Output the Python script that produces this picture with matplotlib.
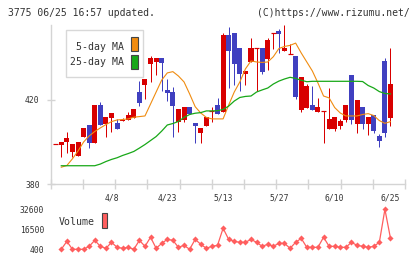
import numpy as np
import matplotlib
matplotlib.use("Agg")
import matplotlib.pyplot as plt
from matplotlib.patches import Rectangle

# ---------------- data ----------------
date_labels = ["4/8", "4/23", "5/13", "5/27", "6/10", "6/25"]
date_index = [10, 20, 30, 40, 50, 60]

opens = [398.9, 398.7, 399.9, 395.4, 393.5, 402.5, 407.9, 399.7, 417.6, 408.7,
         411.6, 409.2, 409.9, 410.5, 411.6, 423.8, 427.1, 437.1, 438.2, 439.9,
         424.8, 423.8, 409.7, 410.6, 416.7, 409.0, 404.4, 407.8, 414.8, 417.6,
         414.4, 451.0, 451.8, 444.8, 432.5, 438.2, 444.8, 444.8, 439.7, 451.8,
         452.9, 443.5, 441.9, 441.0, 415.2, 416.2, 417.6, 414.4, 414.8, 406.3,
         406.3, 407.8, 410.5, 431.9, 408.7, 416.7, 408.7, 412.9, 402.9, 438.6,
         411.6]
highs = [398.9, 400.0, 404.8, 399.0, 400.0, 406.8, 407.9, 417.6, 419.2, 411.8,
         413.8, 411.0, 411.3, 414.4, 415.7, 429.0, 430.0, 441.1, 439.9, 439.9,
         429.9, 426.3, 415.7, 416.7, 416.7, 409.0, 406.8, 411.9, 416.5, 421.0,
         451.8, 454.9, 451.8, 444.8, 433.8, 449.5, 444.8, 444.8, 449.5, 451.8,
         453.8, 455.5, 446.7, 441.0, 431.0, 427.6, 426.7, 420.8, 414.8, 425.7,
         411.9, 411.0, 417.6, 431.9, 420.0, 416.7, 411.9, 412.9, 404.0, 440.0,
         444.8]
lows = [398.9, 392.8, 394.6, 392.8, 393.5, 402.5, 397.0, 399.7, 407.9, 402.5,
        404.6, 406.3, 409.9, 410.5, 411.6, 417.3, 420.5, 428.7, 431.9, 424.4,
        419.7, 402.5, 404.6, 409.7, 413.5, 399.7, 399.7, 407.8, 409.7, 413.5,
        414.4, 425.6, 427.1, 424.4, 427.1, 438.2, 424.4, 432.5, 434.3, 444.4,
        442.5, 443.5, 441.9, 420.6, 414.4, 416.2, 415.2, 414.4, 399.7, 406.3,
        405.2, 406.3, 409.7, 408.7, 404.4, 406.3, 403.5, 404.4, 397.8, 402.5,
        407.8]
closes = [398.9, 400.0, 401.9, 399.0, 400.0, 406.8, 399.7, 417.6, 407.9, 411.8,
          413.8, 406.3, 410.5, 412.9, 415.7, 418.6, 430.0, 439.9, 439.9, 437.5,
          423.5, 417.3, 415.7, 416.7, 413.5, 407.6, 406.8, 411.9, 414.8, 413.5,
          451.0, 443.5, 437.3, 432.5, 433.8, 444.8, 444.8, 433.5, 448.6, 451.8,
          451.6, 444.8, 441.9, 421.4, 431.0, 426.7, 415.2, 416.7, 414.8, 411.0,
          411.9, 410.0, 417.6, 410.5, 420.0, 408.7, 411.9, 405.4, 400.6, 404.4,
          427.6]

ma5 = [np.nan, 388.0, 388.8, 392.0, 395.7, 400.0, 402.9, 405.0, 406.7, 408.3,
       409.7, 410.5, 410.7, 411.0, 411.8, 412.1, 412.4, 418.1, 423.8, 429.5,
       432.9, 433.5, 431.4, 428.6, 422.9, 416.8, 413.8, 411.7, 411.0, 411.0,
       411.0, 417.6, 423.8, 428.6, 434.8, 438.6, 438.1, 437.9, 438.1, 440.6,
       444.5, 445.5, 446.0, 447.1, 442.4, 438.1, 433.8, 428.1, 421.9, 421.0,
       416.4, 413.8, 412.4, 412.4, 412.4, 413.1, 413.5, 412.6, 410.2, 408.9,
       409.7]
ma25 = [np.nan, 388.7, 388.7, 388.7, 388.7, 388.7, 388.7, 388.7, 389.5, 390.7,
        391.7, 392.5, 393.6, 394.5, 395.5, 397.1, 398.8, 400.7, 402.6, 405.2,
        408.1, 408.8, 409.8, 411.7, 413.1, 413.7, 414.0, 414.8, 414.8, 414.9,
        415.5, 417.1, 419.5, 421.2, 421.7, 421.9, 423.8, 424.8, 425.7, 427.6,
        429.0, 430.0, 430.8, 430.3, 429.4, 428.7, 428.9, 428.9, 428.9, 428.9,
        428.9, 428.9, 428.9, 428.9, 428.9, 428.8, 426.9, 425.7, 424.0, 423.1,
        422.9]
volume = [np.nan, 400, 6800, 400, 400, 400, 2800, 7600, 2800, 1200,
          6000, 2000, 1200, 2000, 400, 7600, 2800, 10100, 1200, 5200,
          8400, 7600, 2000, 3600, 400, 8400, 4400, 1200, 2800, 3600,
          17300, 8400, 6800, 6000, 6000, 8400, 6000, 2800, 4400, 2800,
          5200, 5200, 1200, 6000, 9200, 2000, 2000, 2000, 10100, 2800,
          2800, 2000, 2000, 6000, 3600, 2800, 2000, 2800, 6000, 32600,
          9200]
vol_ticks = [400, 16500, 32600]
price_ticks = [380, 420]

# ---------------- style ----------------
W, H = 420, 259
RED = "#d80000"
BLUE = "#4040c0"
ORANGE = "#f08c10"
GREEN = "#18a818"
VOLC = "#ff5e5e"
AXC = "#d4d4d4"
TXT = "#333333"
FONT = "DejaVu Sans Mono"
plt.rcParams["font.family"] = FONT

def fx(px):
    return px / W

def fy(py):
    return 1 - py / H

fig = plt.figure(figsize=(W / 100, H / 100), dpi=100)

XL0, XL1 = -0.896, 62.6
ax = fig.add_axes([fx(50.7), fy(184), fx(405) - fx(50.7), fy(25) - fy(184)])
ax.set_xlim(XL0, XL1)
ax.set_ylim(380, 455.71)

x = np.arange(len(opens))
o = np.array(opens); c = np.array(closes)
hi = np.array(highs); lo = np.array(lows)
up = c >= o
cols = [RED if u else BLUE for u in up]
px_lw = 72 / 100  # 1 pixel in points

ax.vlines(x, lo, hi, colors=cols, linewidth=px_lw, zorder=2)
bottoms = np.minimum(o, c)
heights = np.abs(c - o)
ax.bar(x, heights, bottom=bottoms, width=0.9, color=cols, linewidth=0, zorder=3)
flat = heights < 0.3
ax.hlines(c[flat], x[flat] - 0.45, x[flat] + 0.45, colors=np.array(cols)[flat],
          linewidth=px_lw * 1.2, zorder=3)

ax.plot(x, ma5, color=ORANGE, linewidth=0.8, zorder=4)
ax.plot(x, ma25, color=GREEN, linewidth=0.9, zorder=4)

for s in ["top", "right"]:
    ax.spines[s].set_visible(False)
for s in ["left", "bottom"]:
    ax.spines[s].set_color(AXC)
    ax.spines[s].set_linewidth(1.0)

ax.set_yticks(price_ticks)
ax.set_yticklabels([str(v) for v in price_ticks])
ax.tick_params(axis="y", direction="inout", length=5.8, width=1, color=AXC,
               labelsize=5.8, labelcolor=TXT, pad=5.0)

ax.set_xticks(np.linspace(XL0, XL1, 12))
ax.set_xticklabels([])
ax.tick_params(axis="x", which="major", direction="inout", length=6.5, width=1,
               color=AXC)
ax.set_xticks(date_index, minor=True)
ax.set_xticklabels(date_labels, minor=True)
ax.tick_params(axis="x", which="minor", length=0, labelsize=5.8,
               labelcolor=TXT, pad=6.5)

# legend box
fig.patches.append(Rectangle((fx(65.7), fy(77.3)), fx(143.3) - fx(65.7),
                             fy(30) - fy(77.3), transform=fig.transFigure,
                             facecolor="white", edgecolor="#d8d8d8",
                             linewidth=1.0, zorder=5))
fig.text(fx(124.5), fy(46.5), "5-day MA", ha="right", va="center",
         fontsize=7.1, color=TXT, zorder=6)
fig.text(fx(124.5), fy(62.3), "25-day MA", ha="right", va="center",
         fontsize=7.1, color=TXT, zorder=6)
fig.patches.append(Rectangle((fx(131.3), fy(51.5)), fx(6.3), fy(0) - fy(14.5),
                             transform=fig.transFigure, facecolor=ORANGE,
                             edgecolor="#444444", linewidth=0.8, zorder=6))
fig.patches.append(Rectangle((fx(131.3), fy(69.2)), fx(6.3), fy(0) - fy(14.5),
                             transform=fig.transFigure, facecolor=GREEN,
                             edgecolor="#444444", linewidth=0.8, zorder=6))

# volume panel
vax = fig.add_axes([fx(50.7), fy(249.3), fx(405) - fx(50.7), fy(209.3) - fy(249.3)])
vax.set_xlim(XL0, XL1)
vax.set_ylim(400, 32600)
vax.plot(x, volume, color=VOLC, linewidth=0.9, marker="D", markersize=3.1,
         markeredgewidth=0, clip_on=False)
for s in vax.spines.values():
    s.set_visible(False)
vax.set_xticks([])
vax.set_yticks(vol_ticks)
vax.set_yticklabels([str(v) for v in vol_ticks])
vax.tick_params(axis="y", length=0, labelsize=5.8, labelcolor=TXT, pad=4.6)
vax.patch.set_alpha(0)

fig.text(fx(59), fy(222.3), "Volume", ha="left", va="center", fontsize=7.1,
         color=TXT)
fig.patches.append(Rectangle((fx(101.7), fy(228.3)), fx(5.6), fy(0) - fy(15),
                             transform=fig.transFigure, facecolor=VOLC,
                             edgecolor="#444444", linewidth=0.8, zorder=6))

# header texts
fig.text(fx(8.3), fy(12.5), "3775 06/25 16:57 updated.", ha="left",
         va="center", fontsize=7.0, color=TXT)
fig.text(fx(409.5), fy(12.5), "(C)https://www.rizumu.net/", ha="right",
         va="center", fontsize=7.0, color=TXT)

fig.savefig("out.png", dpi=100)
